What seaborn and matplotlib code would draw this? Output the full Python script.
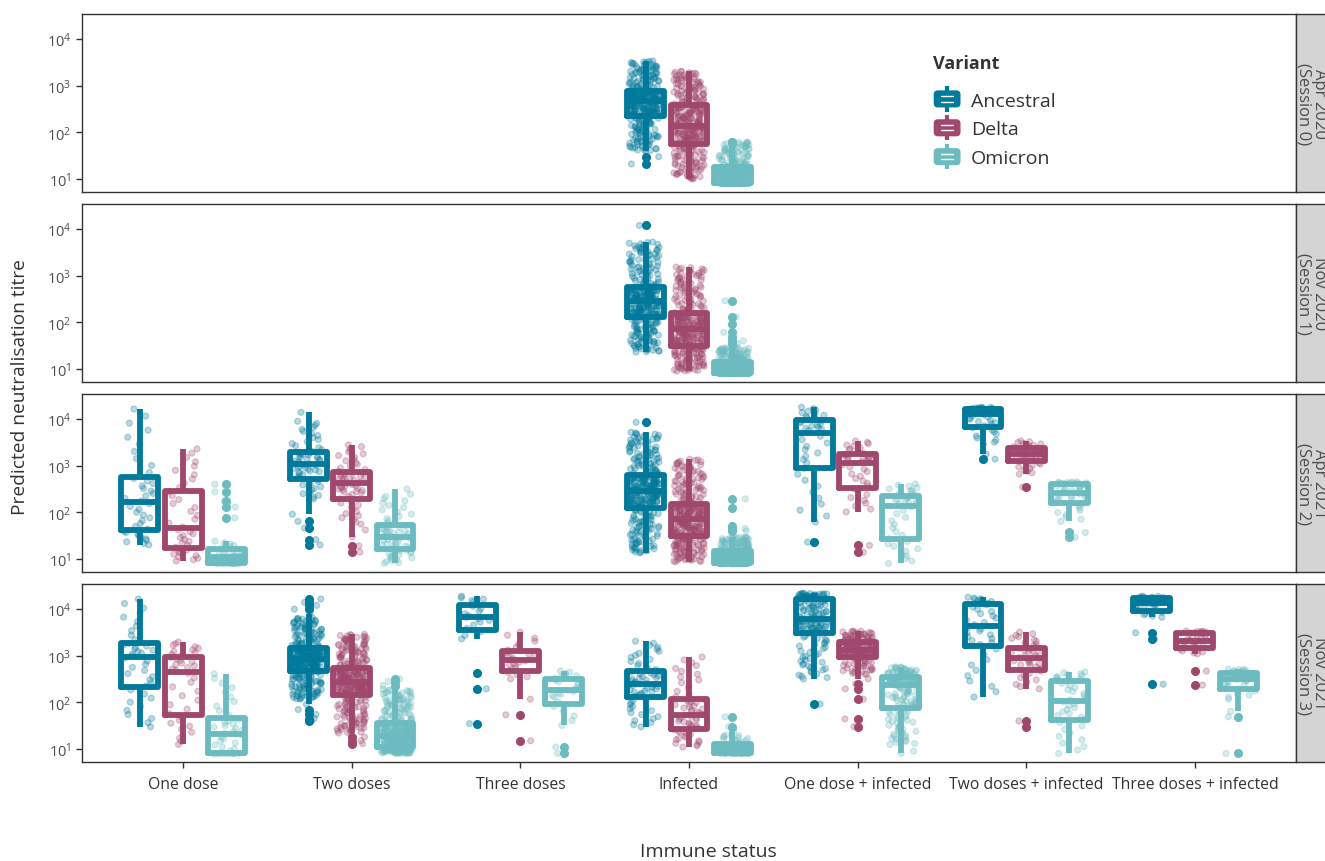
import numpy as np
import pandas as pd
import matplotlib
matplotlib.use("Agg")
import matplotlib.pyplot as plt
import seaborn as sns
from matplotlib.patches import Rectangle, FancyBboxPatch, Patch
from matplotlib.lines import Line2D
from matplotlib.legend_handler import HandlerBase
from matplotlib.ticker import NullLocator, FixedLocator, LogFormatterMathtext

# ---------------------------------------------------------------- data
statuses = ["One dose", "Two doses", "Three doses", "Infected",
            "One dose + infected", "Two doses + infected", "Three doses + infected"]
variants = ["Ancestral", "Delta", "Omicron"]
sessions = ["Apr 2020\n(Session 0)", "Nov 2020\n(Session 1)",
            "Apr 2021\n(Session 2)", "Nov 2021\n(Session 3)"]
colors = {"Ancestral": "#00799B", "Delta": "#A0476D", "Omicron": "#6BBBC0"}

# Box summaries:
# (status, variant, whisker_low, q1, median, q3, whisker_high, n_points, outliers)
session0_boxes = [
    ("Infected", "Ancestral", 40, 235, 470, 770, 3400, 300, [30, 21]),
    ("Infected", "Delta", 10, 56, 138, 385, 2050, 300, []),
    ("Infected", "Omicron", 8, 8.1, 13, 18, 62, 300, []),
]
session1_boxes = [
    ("Infected", "Ancestral", 23, 130, 290, 570, 5300, 300, [12000]),
    ("Infected", "Delta", 9, 31, 72, 158, 1540, 300, []),
    ("Infected", "Omicron", 8, 8, 11, 13.5, 29, 300, [35, 40, 49, 61, 92, 130, 290]),
]
session2_boxes = [
    ("One dose", "Ancestral", 20, 42, 165, 550, 16500, 40, []),
    ("One dose", "Delta", 9, 17.5, 44, 290, 2300, 40, []),
    ("One dose", "Omicron", 8, 8, 10.4, 12.5, 24, 40, [76, 130, 175, 275, 400]),
    ("Two doses", "Ancestral", 195, 690, 1200, 2050, 9000, 60, [14000, 91, 64, 46, 26, 20]),
    ("Two doses", "Delta", 56, 260, 450, 770, 2800, 60, [42, 30, 19, 14]),
    ("Two doses", "Omicron", 8, 16, 29, 49, 245, 60, [315]),
    ("Infected", "Ancestral", 13.5, 125, 285, 610, 5200, 300, [8600]),
    ("Infected", "Delta", 8.7, 31, 72, 150, 1380, 300, []),
    ("Infected", "Omicron", 8, 8, 11, 14, 30, 300, [40, 45, 52, 125, 195]),
    ("One dose + infected", "Ancestral", 62, 1100, 5500, 9500, 18000, 40, [23]),
    ("One dose + infected", "Delta", 102, 410, 1260, 1780, 3400, 40, [19.5, 14]),
    ("One dose + infected", "Omicron", 8, 26, 145, 225, 410, 40, []),
    ("Two doses + infected", "Ancestral", 2900, 7800, 13500, 16500, 18000, 40, [1780, 1390]),
    ("Two doses + infected", "Delta", 660, 1320, 1780, 2400, 3400, 40, [350]),
    ("Two doses + infected", "Omicron", 64, 185, 275, 410, 450, 40, [37, 29]),
]
session3_boxes = [
    ("One dose", "Ancestral", 30, 215, 970, 1870, 16500, 40, []),
    ("One dose", "Delta", 12.5, 54, 470, 940, 1960, 40, []),
    ("One dose", "Omicron", 8, 8, 21, 44, 410, 40, []),
    ("Two doses", "Ancestral", 117, 490, 850, 1390, 6500, 300,
     [8000, 10000, 12000, 14000, 16500, 90, 70, 55, 45, 40]),
    ("Two doses", "Delta", 22, 151, 275, 550, 2900, 300, [18, 15, 13]),
    ("Two doses", "Omicron", 8, 11, 19, 35, 190, 300, [230, 280, 320]),
    ("Three doses", "Ancestral", 2300, 5200, 7500, 13500, 19000, 20, [430, 195, 35]),
    ("Three doses", "Delta", 320, 600, 890, 1320, 3200, 25, [117, 54, 15]),
    ("Three doses", "Omicron", 32, 130, 195, 330, 470, 25, [11, 8]),
    ("Infected", "Ancestral", 30, 130, 245, 470, 2050, 60, []),
    ("Infected", "Delta", 11, 27, 54, 117, 940, 60, []),
    ("Infected", "Omicron", 8, 8, 10, 12, 20, 60, [24, 30, 49]),
    ("One dose + infected", "Ancestral", 320, 3250, 6100, 16500, 22000, 150, [92]),
    ("One dose + infected", "Delta", 400, 1030, 1390, 1960, 3400, 150, [320, 250, 195, 117, 44, 30]),
    ("One dose + infected", "Omicron", 12.5, 80, 245, 350, 580, 150, [9, 8]),
    ("Two doses + infected", "Ancestral", 130, 1700, 4350, 12800, 18000, 40, []),
    ("Two doses + infected", "Delta", 195, 570, 940, 1540, 3200, 40, [40, 30]),
    ("Two doses + infected", "Omicron", 8, 42, 108, 290, 450, 40, []),
    ("Three doses + infected", "Ancestral", 6700, 10500, 14200, 17300, 19000, 30, [3100, 2300, 245]),
    ("Three doses + infected", "Delta", 1100, 1540, 2200, 3100, 3400, 30, [470, 235]),
    ("Three doses + infected", "Omicron", 117, 245, 330, 450, 520, 30, [64, 49, 8]),
]
all_sessions = [session0_boxes, session1_boxes, session2_boxes, session3_boxes]


def build_frame(rows):
    """Expand each read box summary into titre values that reproduce it."""
    recs = []
    for status, variant, lo, q1, med, q3, hi, n, outl in rows:
        p = np.linspace(0, 1, n)
        vals = 10 ** np.interp(p, [0, .25, .5, .75, 1], np.log10([lo, q1, med, q3, hi]))
        vals = np.concatenate([vals, np.asarray(outl, dtype=float)])
        for v in vals:
            recs.append((status, variant, v))
    return pd.DataFrame(recs, columns=["status", "variant", "titre"])


# ---------------------------------------------------------------- style
sns.set_theme(style="white")
plt.rcParams["font.family"] = ["Open Sans", "DejaVu Sans"]
plt.rcParams["mathtext.fontset"] = "custom"
plt.rcParams["mathtext.rm"] = "Liberation Sans"
plt.rcParams["mathtext.it"] = "Liberation Sans:italic"
plt.rcParams["mathtext.bf"] = "Liberation Sans:bold"
np.random.seed(3)

W, H = 1325, 862
fig = plt.figure(figsize=(W / 100, H / 100), dpi=100)
axes = fig.subplots(4, 1, sharex=True, sharey=True)
fig.subplots_adjust(left=82 / W, right=1296 / W, top=1 - 15 / H, bottom=1 - 763 / H,
                    hspace=12 / 178)

for ax, sess, rows in zip(axes, sessions, all_sessions):
    df = build_frame(rows)
    sns.boxplot(data=df, x="status", y="titre", hue="variant",
                order=statuses, hue_order=variants, palette=colors,
                dodge=True, fill=False, width=0.77, gap=0.15, linewidth=4.2,
                showcaps=False, log_scale=True, legend=False, ax=ax,
                flierprops=dict(marker="o", markersize=5.5))
    # solid outlier dots in the box colour
    for ln in ax.lines:
        if ln.get_marker() == "o":
            ln.set_markerfacecolor(ln.get_markeredgecolor())
            ln.set_markeredgewidth(1.0)
    sns.stripplot(data=df, x="status", y="titre", hue="variant",
                  order=statuses, hue_order=variants, palette=colors,
                  dodge=True, jitter=0.27, size=4.3, alpha=0.28,
                  linewidth=0.9, edgecolor="face", log_scale=True,
                  legend=False, ax=ax)

    ax.set_xlabel("")
    ax.set_ylabel("")
    ax.set_yscale("log")
    ax.set_ylim(10 ** 0.72, 10 ** 4.54)
    ax.yaxis.set_major_locator(FixedLocator([10, 100, 1000, 10000]))
    ax.yaxis.set_major_formatter(LogFormatterMathtext())
    ax.yaxis.set_minor_locator(NullLocator())
    ax.set_xlim(-0.6, 6.6)
    ax.set_xticks(range(len(statuses)))
    for s in ax.spines.values():
        s.set_visible(True)
        s.set_color("#333333")
        s.set_linewidth(1.0)
    ax.tick_params(axis="y", which="major", length=4.5, width=1, color="#333333",
                   labelsize=10.5, labelcolor="#4D4D4D", pad=3, left=True)
    ax.grid(False)

    # facet strip on the right
    ax.add_patch(Rectangle((1.0, 0.0), 0.045, 1.0, transform=ax.transAxes,
                           facecolor="#D4D4D4", edgecolor="#333333", lw=1,
                           clip_on=False, zorder=5))
    ax.text(1.0125, 0.5, sess, transform=ax.transAxes, rotation=270,
            ha="center", va="center", fontsize=12, color="#4D4D4D",
            linespacing=1.0, clip_on=False, zorder=6)

for ax in axes[:-1]:
    ax.tick_params(axis="x", length=0, labelbottom=False)
axes[-1].set_xticklabels(statuses)
axes[-1].tick_params(axis="x", length=4, width=1, color="#333333",
                     labelsize=11.3, labelcolor="#333333", pad=6, bottom=True)

fig.text(708 / W, 1 - 852 / H, "Immune status", ha="center", va="center",
         fontsize=14, color="#333333")
fig.text(20 / W, 1 - 387 / H, "Predicted neutralisation titre", ha="center",
         va="center", rotation=90, fontsize=13.8, color="#333333")


# ---------------------------------------------------------------- legend
class BoxHandler(HandlerBase):
    def create_artists(self, legend, orig_handle, xdescent, ydescent, width,
                       height, fontsize, trans):
        c = orig_handle.get_facecolor()
        x0, y0 = -xdescent, -ydescent
        cx = x0 + width / 2
        whisk = Line2D([cx, cx], [y0 - 0.18 * height, y0 + 1.18 * height],
                       color=c, lw=3, solid_capstyle="butt", transform=trans)
        box = FancyBboxPatch((x0 + 1, y0 + 0.08 * height), width - 2, 0.84 * height,
                             boxstyle="round,pad=0,rounding_size=2.5",
                             fc=c, ec=c, lw=1, transform=trans)
        m1 = Line2D([x0 + 0.28 * width, x0 + 0.72 * width], [y0 + 0.36 * height] * 2,
                    color="white", lw=1, transform=trans)
        m2 = Line2D([x0 + 0.28 * width, x0 + 0.72 * width], [y0 + 0.64 * height] * 2,
                    color="white", lw=1, transform=trans)
        return [whisk, box, m1, m2]


handles = [Patch(facecolor=colors[v], edgecolor=colors[v]) for v in variants]
leg = axes[0].legend(handles, variants, handler_map={Patch: BoxHandler()},
                     title="Variant", loc="upper left", bbox_to_anchor=(0.701, 0.778),
                     frameon=False, fontsize=14,
                     title_fontproperties={"weight": "bold", "size": 13},
                     handlelength=1.45, handleheight=1.1, handletextpad=0.5,
                     labelspacing=0.46, borderaxespad=0, borderpad=0)
leg._legend_box.align = "left"
leg._legend_box.sep = 13
leg.get_title().set_color("#333333")
for t in leg.get_texts():
    t.set_color("#333333")

fig.savefig("out.png", dpi=100)
